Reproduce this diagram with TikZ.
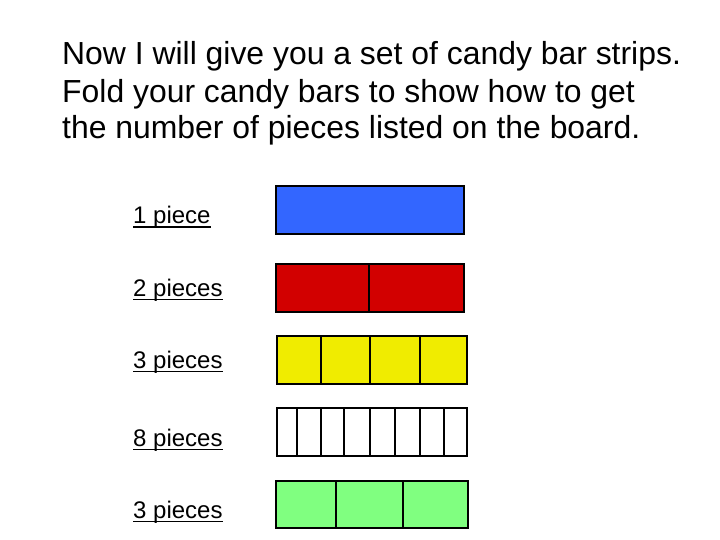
\documentclass[tikz,border=0pt]{standalone}
\usepackage{fontspec}
\setmainfont{Liberation Sans}
\usetikzlibrary{positioning}

\definecolor{stripBlue}{RGB}{51,102,255}
\definecolor{stripRed}{RGB}{210,0,0}
\definecolor{stripYellow}{RGB}{240,236,0}
\definecolor{stripGreen}{RGB}{128,255,128}

\begin{document}
\begin{tikzpicture}[x=1pt,y=-1pt,font=\fontsize{24}{28}\selectfont]
    \tikzset{
      strip/.style={draw=black, line width=1.2pt},
      pieceLabel/.style={anchor=base west, inner sep=0pt},
      underLine/.style={line width=1.8pt},
      titleLine/.style={anchor=base west, inner sep=0pt, font=\fontsize{31.9}{36}\selectfont}
    }
    \useasboundingbox (0,0) rectangle (720,540);

    \node[titleLine] (titleA) at (62,65) {Now I will give you a set of candy bar strips.};
    \node[titleLine] (titleB) at (62,103) {Fold your candy bars to show how to get};
    \node[titleLine] (titleC) at (62,139) {the number of pieces listed on the board.};

    %strips
    \draw[strip, fill=stripBlue] (276,186) rectangle (464,234);

    \draw[strip, fill=stripRed] (276,264) rectangle (464,312);
    \draw[strip] (369,264) -- (369,312);

    \draw[strip, fill=stripYellow] (277,336) rectangle (467,384);
    \draw[strip] (321,336) -- (321,384) (370,336) -- (370,384) (420,336) -- (420,384);

    \draw[strip, fill=white] (277,408) rectangle (467,456);
    \draw[strip] (297,408) -- (297,456) (321,408) -- (321,456) (344,408) -- (344,456)
                 (370,408) -- (370,456) (395,408) -- (395,456) (420,408) -- (420,456)
                 (444,408) -- (444,456);

    \draw[strip, fill=stripGreen] (276,481) rectangle (468,528);
    \draw[strip] (336,481) -- (336,528) (403,481) -- (403,528);

    %labels
    \node[pieceLabel] (onePiece) at (133,224) {1 piece};
    \node[pieceLabel] (twoPieces) at (133,296) {2 pieces};
    \node[pieceLabel] (threePieces) at (133,368) {3 pieces};
    \node[pieceLabel] (eightPieces) at (133,446) {8 pieces};
    \node[pieceLabel] (threeMore) at (133,518) {3 pieces};

    \draw[underLine] ([yshift=-3.4pt]onePiece.base west) -- ([yshift=-3.4pt]onePiece.base east);
    \draw[underLine] ([yshift=-3.4pt]twoPieces.base west) -- ([yshift=-3.4pt]twoPieces.base east);
    \draw[underLine] ([yshift=-3.4pt]threePieces.base west) -- ([yshift=-3.4pt]threePieces.base east);
    \draw[underLine] ([yshift=-3.4pt]eightPieces.base west) -- ([yshift=-3.4pt]eightPieces.base east);
    \draw[underLine] ([yshift=-3.4pt]threeMore.base west) -- ([yshift=-3.4pt]threeMore.base east);

\end{tikzpicture}
\end{document}
